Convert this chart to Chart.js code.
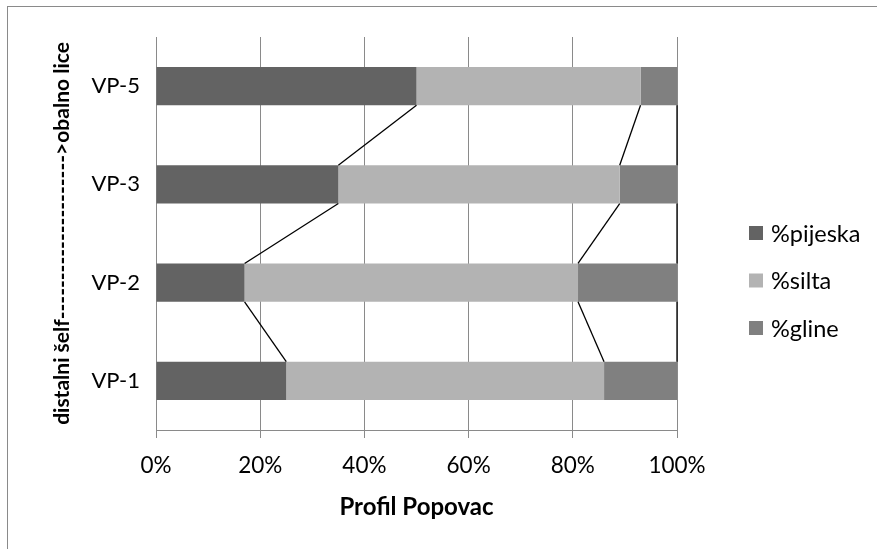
<!DOCTYPE html>
<html>
<head>
<meta charset="utf-8">
<script src="https://cdn.jsdelivr.net/npm/chart.js@4.4.1/dist/chart.umd.min.js"></script>
<style>
  html, body { margin: 0; padding: 0; background: #fff; }
  #wrap { position: relative; width: 877px; height: 549px; overflow: hidden; }
  #frame { position: absolute; left: 7px; top: 6px; width: 900px; height: 600px;
           border-left: 1px solid #8a8a8a; border-top: 1px solid #8a8a8a; }
  canvas { position: absolute; left: 0; top: 0; }
</style>
</head>
<body>
<div id="wrap">
  <div id="frame"></div>
  <canvas id="barChart" width="877" height="549"></canvas>
</div>
<script>
// categories, top to bottom
const categories = ["VP-5", "VP-3", "VP-2", "VP-1"];

// percentages per profile point
const pijeska = [50, 35, 17, 25];
const silta   = [43, 54, 64, 61];
const gline   = [7, 11, 19, 14];

const seriesNames = ["%pijeska", "%silta", "%gline"];
const xTicks = [0, 20, 40, 60, 80, 100];

const FONT = "Lato, 'Noto Sans', sans-serif";
const GRID = "#8a8a8a";

// lines joining the end of each segment between neighbouring bars (Excel "series lines")
const seriesLines = {
    id: "seriesLines",
    afterDatasetsDraw(chart) {
        const ctx = chart.ctx;
        ctx.save();
        ctx.strokeStyle = "#000";
        ctx.lineWidth = 1.3;
        chart.data.datasets.forEach((ds, i) => {
            const bars = chart.getDatasetMeta(i).data;
            for (let c = 0; c < bars.length - 1; c++) {
                const up = bars[c], low = bars[c + 1];
                ctx.beginPath();
                ctx.moveTo(up.x, up.y + up.height / 2);
                ctx.lineTo(low.x, low.y - low.height / 2);
                ctx.stroke();
            }
        });
        ctx.restore();
    }
};

// legend on the right, drawn by hand so it sits where Excel put it
const sideLegend = {
    id: "sideLegend",
    afterDraw(chart) {
        const ctx = chart.ctx;
        ctx.save();
        ctx.font = "23.5px " + FONT;
        ctx.textBaseline = "middle";
        chart.data.datasets.forEach((ds, i) => {
            const y = 233 + i * 47.5;
            ctx.fillStyle = ds.backgroundColor;
            ctx.fillRect(749, y - 7, 14, 14);
            ctx.fillStyle = "#000";
            ctx.fillText(ds.label, 771, y + 1);
        });
        ctx.restore();
    }
};

new Chart(document.getElementById("barChart"), {
    type: "bar",
    data: {
        labels: categories,
        datasets: [
            { label: seriesNames[0], data: pijeska, backgroundColor: "#636363" },
            { label: seriesNames[1], data: silta,   backgroundColor: "#b3b3b3" },
            { label: seriesNames[2], data: gline,   backgroundColor: "#808080" }
        ]
    },
    options: {
        indexAxis: "y",
        responsive: false,
        animation: false,
        devicePixelRatio: 1,
        layout: { padding: { left: 0, top: 37, right: 200, bottom: 0 } },
        datasets: {
            bar: { barPercentage: 0.39, categoryPercentage: 1, borderWidth: 0 }
        },
        plugins: {
            legend: { display: false },
            tooltip: { enabled: false }
        },
        scales: {
            x: {
                stacked: true,
                min: 0,
                max: 100,
                afterBuildTicks(scale) {
                    scale.ticks = xTicks.map(v => ({ value: v }));
                },
                afterFit(scale) { scale.height = 119; },
                grid: { color: GRID, lineWidth: 1, tickLength: 8, tickColor: GRID },
                border: { color: GRID, width: 1 },
                ticks: {
                    color: "#000",
                    font: { family: FONT, size: 22.5 },
                    padding: 14,
                    callback: v => v + "%"
                },
                title: {
                    display: true,
                    text: "Profil Popovac",
                    color: "#000",
                    font: { family: FONT, size: 24, weight: "bold" },
                    padding: { top: 0, bottom: 27 }
                }
            },
            y: {
                stacked: true,
                afterFit(scale) { scale.width = 156; },
                grid: { display: true, drawOnChartArea: false, drawTicks: false },
                border: { color: GRID, width: 1 },
                ticks: {
                    color: "#000",
                    font: { family: FONT, size: 22 },
                    padding: 16
                },
                title: {
                    display: true,
                    text: "distalni šelf--------------------->obalno lice",
                    color: "#000",
                    font: { family: FONT, size: 21, weight: "bold" },
                    padding: { top: 50, bottom: 0 }
                }
            }
        }
    },
    plugins: [seriesLines, sideLegend]
});
</script>
</body>
</html>
